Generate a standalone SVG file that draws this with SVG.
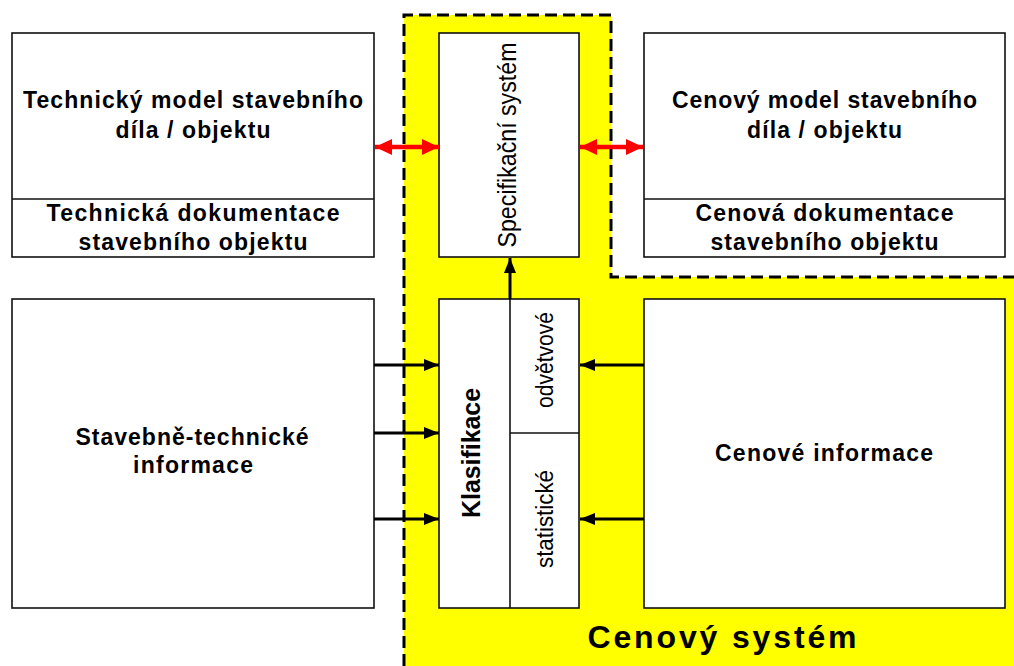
<svg xmlns="http://www.w3.org/2000/svg" width="1014" height="666" viewBox="0 0 1014 666">
<defs>
<style>
.box{fill:#fff;stroke:#111;stroke-width:1.6}
.div{stroke:#111;stroke-width:1.6;fill:none}
.t{font-family:"Liberation Sans",Arial,sans-serif;font-size:23px;font-weight:bold;fill:#000;text-anchor:middle}
.v{font-family:"Liberation Sans",Arial,sans-serif;font-size:25px;fill:#000;text-anchor:middle}
.red{stroke:#ff0000;stroke-width:4.5;fill:none}
.blk{stroke:#000;stroke-width:3;fill:none}
</style>
<marker id="rh" markerUnits="userSpaceOnUse" markerWidth="18" markerHeight="16" refX="17" refY="8" orient="auto-start-reverse" viewBox="0 0 18 16">
<path d="M0,0 L17,8 L0,16 Z" fill="#ff0000"/>
</marker>
<marker id="bh" markerUnits="userSpaceOnUse" markerWidth="15" markerHeight="12" refX="15" refY="6" orient="auto" viewBox="0 0 15 12">
<path d="M0,0 L15,6 L0,12 Z" fill="#000"/>
</marker>
</defs>
<rect x="0" y="0" width="1014" height="666" fill="#fff"/>
<g id="cenovy-system">
<polygon points="404,15 611,15 611,277 1014,277 1014,666 404,666" fill="#ffff00"/>
<path d="M404,666 V15 H611 V277 H1014" fill="none" stroke="#000" stroke-width="3" stroke-dasharray="12,6"/>
<text class="t" x="722" y="648" style="font-size:32px" textLength="269" lengthAdjust="spacing">Cenový systém</text>
</g>
<g id="technicky-model">
<rect class="box" x="12" y="33" width="362" height="224"/>
<line class="div" x1="12" y1="199" x2="374" y2="199"/>
<text class="t" x="193" y="108" textLength="340" lengthAdjust="spacing">Technický model stavebního</text>
<text class="t" x="193" y="138" textLength="155" lengthAdjust="spacing">díla / objektu</text>
<text class="t" x="193" y="221" textLength="293" lengthAdjust="spacing">Technická dokumentace</text>
<text class="t" x="193" y="250" textLength="229" lengthAdjust="spacing">stavebního objektu</text>
</g>
<g id="specifikacni-system">
<rect class="box" x="439" y="33" width="140" height="224"/>
<text class="v" transform="translate(516,145) rotate(-90)" x="0" y="0" textLength="205" lengthAdjust="spacingAndGlyphs">Specifikační systém</text>
</g>
<g id="cenovy-model">
<rect class="box" x="644" y="33" width="361" height="224"/>
<line class="div" x1="644" y1="199" x2="1005" y2="199"/>
<text class="t" x="824.5" y="108" textLength="305" lengthAdjust="spacing">Cenový model stavebního</text>
<text class="t" x="824.5" y="138" textLength="155" lengthAdjust="spacing">díla / objektu</text>
<text class="t" x="824.5" y="221" textLength="258" lengthAdjust="spacing">Cenová dokumentace</text>
<text class="t" x="824.5" y="250" textLength="228" lengthAdjust="spacing">stavebního objektu</text>
</g>
<g id="stavebne-technicke">
<rect class="box" x="12" y="299" width="362" height="309"/>
<text class="t" x="192" y="445" textLength="233" lengthAdjust="spacing">Stavebně-technické</text>
<text class="t" x="193" y="473" textLength="120" lengthAdjust="spacing">informace</text>
</g>
<g id="klasifikace">
<rect class="box" x="439" y="299" width="140" height="309"/>
<line class="div" x1="510" y1="299" x2="510" y2="608"/>
<line class="div" x1="510" y1="433" x2="579" y2="433"/>
<text class="t" transform="translate(480,453) rotate(-90)" x="0" y="0" style="font-size:26px" textLength="130" lengthAdjust="spacingAndGlyphs">Klasifikace</text>
<text class="v" transform="translate(553,360) rotate(-90)" x="0" y="0" style="font-size:23px" textLength="96" lengthAdjust="spacingAndGlyphs">odvětvové</text>
<text class="v" transform="translate(553,519) rotate(-90)" x="0" y="0" style="font-size:23px" textLength="98" lengthAdjust="spacingAndGlyphs">statistické</text>
</g>
<g id="cenove-informace">
<rect class="box" x="644" y="299" width="361" height="309"/>
<text class="t" x="824" y="461" textLength="218" lengthAdjust="spacing">Cenové informace</text>
</g>
<g id="connectors">
<line class="red" x1="375" y1="147" x2="439" y2="147" marker-start="url(#rh)" marker-end="url(#rh)"/>
<line class="red" x1="580" y1="147" x2="643" y2="147" marker-start="url(#rh)" marker-end="url(#rh)"/>
<line class="blk" x1="510" y1="299" x2="510" y2="258" marker-end="url(#bh)"/>
<line class="blk" x1="374" y1="365" x2="439" y2="365" marker-end="url(#bh)"/>
<line class="blk" x1="374" y1="433" x2="439" y2="433" marker-end="url(#bh)"/>
<line class="blk" x1="374" y1="519" x2="439" y2="519" marker-end="url(#bh)"/>
<line class="blk" x1="644" y1="365" x2="580" y2="365" marker-end="url(#bh)"/>
<line class="blk" x1="644" y1="519" x2="580" y2="519" marker-end="url(#bh)"/>
</g>
</svg>
